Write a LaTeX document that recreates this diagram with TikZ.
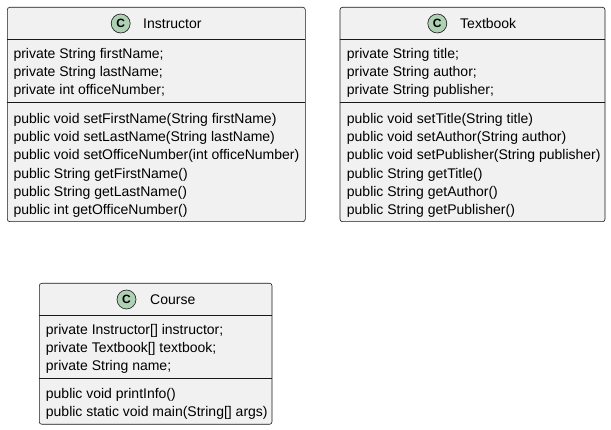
\documentclass[tikz,border=0pt]{standalone}
\usepackage{fontspec}
\setmainfont{Liberation Sans}
\definecolor{boxfill}{HTML}{F1F1F1}
\definecolor{boxline}{HTML}{181818}
\definecolor{cfill}{HTML}{ADD1B2}
\begin{document}
\begin{tikzpicture}[x=1pt,y=-1pt,
  classbox/.style={draw=boxline,fill=boxfill,line width=0.6pt,rounded corners=2.5pt},
  sep/.style={draw=boxline,line width=0.6pt},
  cbadge/.style={circle,draw=boxline,fill=cfill,line width=0.6pt,minimum size=19pt,inner sep=0pt,font=\fontsize{12}{12}\selectfont\bfseries},
  title/.style={anchor=base west,inner sep=0pt,font=\fontsize{14}{14}\selectfont},
  member/.style={anchor=base west,inner sep=0pt,font=\fontsize{14}{14}\selectfont}]
\useasboundingbox (0,0) rectangle (611,430);

% Instructor
\draw[classbox] (7.3,7.3) rectangle (305.3,221.7);
\draw[sep] (7.3,39.3) -- (305.3,39.3);
\draw[sep] (7.3,102.3) -- (305.3,102.3);
\node[cbadge] (ci) at (120.7,23.5) {C};
\node[title] (ti) at (143,28.5) {Instructor};
\node[member] (i1) at (13.3,58.3) {private String firstName;};
\node[member] (i2) at (13.3,76.6) {private String lastName;};
\node[member] (i3) at (13.3,95) {private int officeNumber;};
\node[member] (i4) at (13.3,123.3) {public void setFirstName(String firstName)};
\node[member] (i5) at (13.3,141.6) {public void setLastName(String lastName)};
\node[member] (i6) at (13.3,160) {public void setOfficeNumber(int officeNumber)};
\node[member] (i7) at (13.3,178.3) {public String getFirstName()};
\node[member] (i8) at (13.3,196.7) {public String getLastName()};
\node[member] (i9) at (13.3,215) {public int getOfficeNumber()};

% Textbook
\draw[classbox] (340,7.3) rectangle (605,221.7);
\draw[sep] (340,39.3) -- (605,39.3);
\draw[sep] (340,102.3) -- (605,102.3);
\node[cbadge] (ct) at (437.3,23.5) {C};
\node[title] (tt) at (460,28.5) {Textbook};
\node[member] (t1) at (346.7,58.3) {private String title;};
\node[member] (t2) at (346.7,76.6) {private String author;};
\node[member] (t3) at (346.7,95) {private String publisher;};
\node[member] (t4) at (346.7,123.3) {public void setTitle(String title)};
\node[member] (t5) at (346.7,141.6) {public void setAuthor(String author)};
\node[member] (t6) at (346.7,160) {public void setPublisher(String publisher)};
\node[member] (t7) at (346.7,178.3) {public String getTitle()};
\node[member] (t8) at (346.7,196.7) {public String getAuthor()};
\node[member] (t9) at (346.7,215) {public String getPublisher()};

% Course
\draw[classbox] (39.3,283.3) rectangle (272,424.3);
\draw[sep] (39.3,315.3) -- (272,315.3);
\draw[sep] (39.3,378.3) -- (272,378.3);
\node[cbadge] (cc) at (126.5,299.5) {C};
\node[title] (tc) at (150,304.5) {Course};
\node[member] (c1) at (45.7,334.3) {private Instructor[] instructor;};
\node[member] (c2) at (45.7,352.6) {private Textbook[] textbook;};
\node[member] (c3) at (45.7,371) {private String name;};
\node[member] (c4) at (45.7,398.5) {public void printInfo()};
\node[member] (c5) at (45.7,416.8) {public static void main(String[] args)};
\end{tikzpicture}
\end{document}
